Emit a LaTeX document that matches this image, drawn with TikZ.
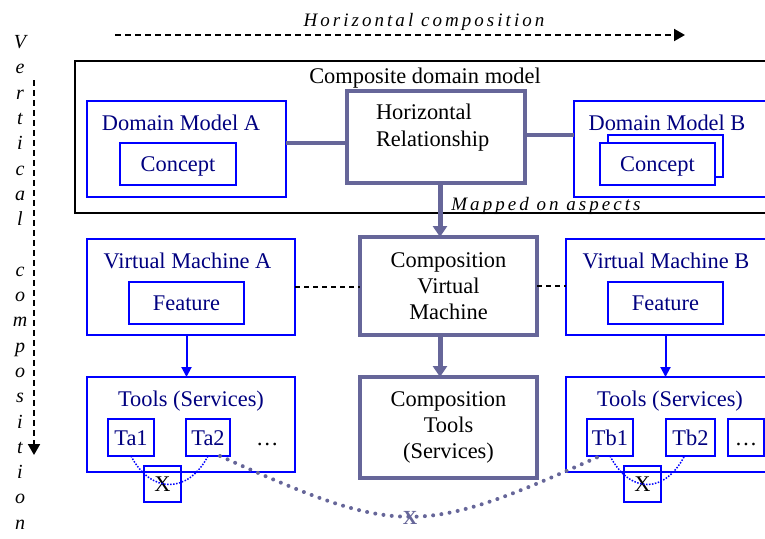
\documentclass[tikz,border=0pt]{standalone}
\usepackage{fontspec}
\setmainfont{Liberation Serif}
\newfontfamily\spacedit[LetterSpace=16]{Liberation Serif}
\usepackage{tikz}
\usetikzlibrary{arrows.meta,positioning,calc}
\definecolor{compgray}{RGB}{102,102,153}
\definecolor{navytext}{RGB}{0,0,128}

\begin{document}
\begin{tikzpicture}[x=1pt, y=1pt, node distance=10pt and 10pt, >=Stealth,
		outerbox/.style={draw=black, line width=1.5pt, rectangle, inner sep=0pt, outer sep=0pt},
		bluebox/.style={draw=blue, line width=1.3pt, rectangle, inner sep=0pt, outer sep=0pt},
		inbox/.style={bluebox, text=navytext, font=\fontsize{22.4pt}{27pt}\selectfont, text height=15pt, text depth=0pt},
		word/.style={draw=none, rectangle, inner sep=0pt, outer sep=0pt, font=\fontsize{22.4pt}{27pt}\selectfont, text height=15pt, text depth=0pt},
		blueword/.style={word, text=navytext},
		multiword/.style={draw=none, rectangle, inner sep=0pt, outer sep=0pt, align=left, font=\fontsize{22.4pt}{27pt}\selectfont},
		compbox/.style={draw=compgray, line width=4.5pt, rectangle, inner sep=0pt, outer sep=0pt, align=center, font=\fontsize{22.4pt}{26pt}\selectfont},
		xbox/.style={bluebox, minimum width=37pt, minimum height=36pt, font=\fontsize{22.4pt}{27pt}\selectfont, text height=15pt, text depth=0pt},
		spaced/.style={draw=none, inner sep=0pt, font=\spacedit\itshape\fontsize{19pt}{22pt}\selectfont, text height=13pt, text depth=0pt},
		vletter/.style={draw=none, inner sep=0pt, anchor=base, font=\itshape\fontsize{20pt}{24pt}\selectfont},
		compLine/.style={line width=4pt, -, color=compgray},
		compArrow/.style={line width=5pt, -{Triangle[width=14pt,length=11pt]}, color=compgray},
		blueArrow/.style={line width=2pt, -{Triangle[width=10pt,length=10pt]}, color=blue},
		dashLine/.style={line width=1.5pt, dash pattern=on 5pt off 4pt, color=black},
		dashArrow/.style={line width=2pt, dash pattern=on 6pt off 4pt, -{Triangle[width=12pt,length=11pt]}, color=black},
		tieLine/.style={line width=1.5pt, dash pattern=on 1.5pt off 1.5pt, color=blue},
		dotLine/.style={line width=4pt, line cap=round, dash pattern=on 0pt off 8.3pt, color=compgray}
		]
		\clip (0,0) rectangle (765,-538);
		\fill[white] (0,0) rectangle (765,-538);
		
		\coordinate (hs) at (115,-35);
		\coordinate (he) at (685,-35);
		\coordinate (vs) at (34,-80);
		\coordinate (ve) at (34,-455);
		\coordinate (axis) at (440,0);
		\node[spaced](hc) at (424,-20.5) {Horizontal composition};
		\foreach \ch [count=\i from 0] in {V,e,r,t,i,c,a,l,{},c,o,m,p,o,s,i,t,i,o,n}
			\node[vletter](v\i) at (20,-48.5-25.3*\i) {\ch};
		
		\node[outerbox, minimum width=695pt, minimum height=152pt](cdm) at (422.5,-137) {};
		\node[word](cdmT) [below=7.5pt of cdm.north, xshift=2.5pt] {Composite domain model};
		
		\node[bluebox, minimum width=199pt, minimum height=96pt](dma) at (186.5,-149) {};
		\node[blueword](dmaT) [below=14.5pt of dma.north, xshift=-5.5pt] {Domain Model A};
		\node[inbox, minimum width=116pt, minimum height=42pt](ca) [below=12.5pt of dmaT, xshift=-3pt] {Concept};
		
		\node[compbox, minimum width=178pt, minimum height=92pt](hr) at (436,-137) {};
		\node[multiword](hrT) [below right=12.6pt and 29pt of hr.north west] {Horizontal\\Relationship};
		
		\node[bluebox, minimum width=196pt, minimum height=96pt](dmb) at (672,-149) {};
		\node[blueword](dmbT) [below=14.5pt of dmb.north, xshift=-5pt] {Domain Model B};
		\node[inbox, minimum width=115pt, minimum height=42pt](cb2) [below=4.5pt of dmbT, xshift=-1.5pt] {};
		\node[inbox, fill=white, minimum width=115pt, minimum height=42pt](cb1) at ([shift={(-8pt,-8pt)}]cb2.center) {Concept};
		
		\node[bluebox, minimum width=208pt, minimum height=96pt](vma) at (191,-287) {};
		\node[blueword](vmaT) [below=14.5pt of vma.north, xshift=-3.5pt] {Virtual Machine A};
		\node[inbox, minimum width=115pt, minimum height=42pt](fa) [below=13.5pt of vmaT, xshift=-1pt] {Feature};
		
		\node[compbox, minimum width=177pt, minimum height=98pt](cvm) at (448.5,-286) {Composition\\Virtual\\Machine};
		
		\node[bluebox, minimum width=204pt, minimum height=96pt](vmb) at (668,-287) {};
		\node[blueword](vmbT) [below=14.5pt of vmb.north, xshift=-2pt] {Virtual Machine B};
		\node[inbox, minimum width=115pt, minimum height=42pt](fb) [below=13.5pt of vmbT, xshift=-0.5pt] {Feature};
		
		\node[bluebox, minimum width=208pt, minimum height=95pt](ta) at (191,-424.5) {};
		\node[blueword](taT) [below=14.5pt of ta.north] {Tools (Services)};
		\node[inbox, minimum width=46pt, minimum height=37pt](ta1) [below right=42pt and 21pt of ta.north west] {Ta1};
		\node[inbox, minimum width=44pt, minimum height=37pt](ta2) [right=32pt of ta1] {Ta2};
		\node[word](tadots) [right=26pt of ta2] {\dots};
		\node[xbox](xa) [below=10pt of ta1, xshift=31.5pt] {X};
		
		\node[compbox, minimum width=177pt, minimum height=101pt](ct) at (448.5,-427.5) {Composition\\Tools\\(Services)};
		
		\node[bluebox, minimum width=204pt, minimum height=95pt](tb) at (668,-424.5) {};
		\node[blueword](tbT) [below=14.5pt of tb.north, xshift=2pt] {Tools (Services)};
		\node[inbox, minimum width=46pt, minimum height=37pt](tb1) [below right=42pt and 21pt of tb.north west] {Tb1};
		\node[inbox, minimum width=49pt, minimum height=37pt](tb2) [right=33pt of tb1] {Tb2};
		\node[inbox, text=black, minimum width=36pt, minimum height=37pt](tbdots) [right=13pt of tb2] {\dots};
		\node[xbox](xb) [below=10pt of tb1, xshift=32.5pt] {X};
		
		\draw [dashArrow] (hs) -- (he);
		\draw [dashArrow] (vs) -- (ve);
		
		\draw [compLine] ([yshift=6pt]dma.east) -- ([yshift=6pt]dma.east -| hr.west);
		\draw [compLine] ([yshift=2pt]hr.east) -- ([yshift=2pt]hr.east -| dmb.west);
		\draw [compArrow] (hr.south -| axis) -- (cvm.north -| axis);
		\node[spaced](map) at (546,-203.5) {Mapped on aspects};
		
		\draw [dashLine] (vma.east) -- (vma.east -| cvm.west);
		\draw [dashLine] (cvm.east) -- (cvm.east -| vmb.west);
		\draw [compArrow] (cvm.south -| axis) -- (ct.north -| axis);
		\draw [blueArrow] (fa.south |- vma.south) -- (fa.south |- ta.north);
		\draw [blueArrow] (fb.south |- vmb.south) -- (fb.south |- tb.north);
		
		\draw [tieLine] (ta1.south) .. controls +(20,-38) and +(-20,-38) .. (ta2.south);
		\draw [tieLine] (tb1.south) .. controls +(20,-38) and +(-20,-38) .. ([xshift=-6pt]tb2.south);
		\draw [dotLine] ([xshift=-10pt]ta2.south east) .. controls +(180,-81) and +(-180,-81) .. ([xshift=-10pt]tb1.south) node[word, pos=0.5, font=\bfseries\fontsize{20pt}{24pt}\selectfont, text=compgray](xm) {X};
\end{tikzpicture}
\end{document}
